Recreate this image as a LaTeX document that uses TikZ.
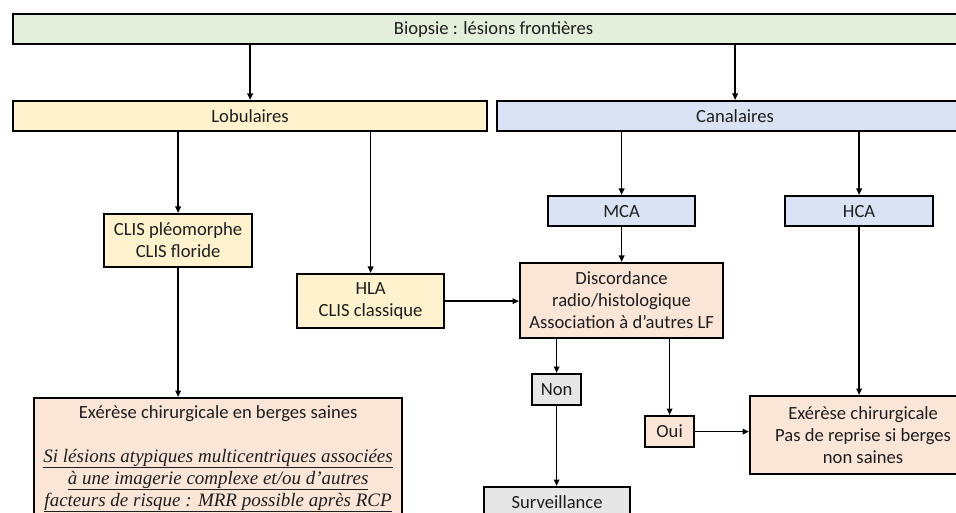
\documentclass[tikz,border=0pt]{standalone}
\usepackage{fontspec}
\setmainfont{Carlito}
\newfontfamily\tnr{Liberation Serif}
\usetikzlibrary{arrows.meta}
\definecolor{cgreen}{HTML}{E2EFDA}
\definecolor{cyellow}{HTML}{FFF2CC}
\definecolor{cblue}{HTML}{DAE3F3}
\definecolor{corange}{HTML}{FBE5D6}
\definecolor{cgrey}{HTML}{E7E6E6}
\definecolor{ctext}{HTML}{1E1E1E}
\tikzset{
  box/.style={draw=black, line width=2.2pt, anchor=north west, align=center,
    inner sep=0pt, text=ctext, font=\fontsize{18.6}{22}\selectfont},
  arr/.style={line width=1.6pt, -{Triangle[length=6.5pt,width=5.5pt]}},
}
\newcommand{\ulit}[1]{{\tnr\itshape\fontsize{19}{22}\selectfont \underline{#1}}}
\begin{document}
\begin{tikzpicture}[x=1pt,y=-1pt]
\useasboundingbox (0,0) rectangle (956,513);
\clip (0,0) rectangle (956,513);
\node[box, fill=cgreen, minimum width=961pt, minimum height=30pt] (top) at (12,13) {Biopsie : lésions frontières};
\node[box, fill=cyellow, minimum width=474pt, minimum height=30pt] (lob) at (12,100) {Lobulaires};
\node[box, fill=cblue, minimum width=476pt, minimum height=30pt] (can) at (496,100) {Canalaires};
\node[box, fill=cyellow, minimum width=148pt, minimum height=53pt] (clisp) at (103,213) {CLIS pléomorphe\\CLIS floride};
\node[box, fill=cyellow, minimum width=147pt, minimum height=54pt] (hla) at (296,273) {HLA\\CLIS classique};
\node[box, fill=cblue, minimum width=147pt, minimum height=30pt] (mca) at (547,195) {MCA};
\node[box, fill=cblue, minimum width=148pt, minimum height=30pt] (hca) at (784,195) {HCA};
\node[box, fill=corange, minimum width=203pt, minimum height=75pt] (disc) at (519,262) {Discordance\\radio/histologique\\Association à d’autres LF};
\node[box, fill=cgrey, minimum width=49pt, minimum height=31pt] (non) at (531,373) {Non};
\node[box, fill=corange, minimum width=49pt, minimum height=31pt] (oui) at (644,415) {Oui};
\node[box, fill=cgrey, minimum width=146pt, minimum height=31pt] (surv) at (483,486) {Surveillance};
\node[box, fill=corange, minimum width=368pt, minimum height=121pt] (exl) at (33,397) {Exérèse chirurgicale en berges saines\\[22pt]
  \ulit{Si lésions atypiques multicentriques associées}\\
  \ulit{à une imagerie complexe et/ou d’autres}\\
  \ulit{facteurs de risque : MRR possible après RCP}};
\node[box, fill=corange, minimum width=226pt, minimum height=78pt] (exr) at (749,395) {Exérèse chirurgicale\\Pas de reprise si berges\\non saines};

\draw[arr] (top.south -| lob.north) -- (lob.north);
\draw[arr] (top.south -| can.north) -- (can.north);
\draw[arr] (lob.south -| clisp.north) -- (clisp.north);
\draw[arr] (lob.south -| hla.north) -- (hla.north);
\draw[arr] (can.south -| mca.north) -- (mca.north);
\draw[arr] (can.south -| hca.north) -- (hca.north);
\draw[arr] (mca.south) -- (disc.north);
\draw[arr] (hca.south) -- (hca.south |- exr.north);
\draw[arr] (hla.east) -- (hla.east -| disc.west);
\draw[arr] (clisp.south) -- (clisp.south |- exl.north);
\draw[arr] (non.north |- disc.south) -- (non.north);
\draw[arr] (oui.north |- disc.south) -- (oui.north);
\draw[arr] (non.south) -- (non.south |- surv.north);
\draw[arr] (oui.east) -- (oui.east -| exr.west);
\end{tikzpicture}
\end{document}
